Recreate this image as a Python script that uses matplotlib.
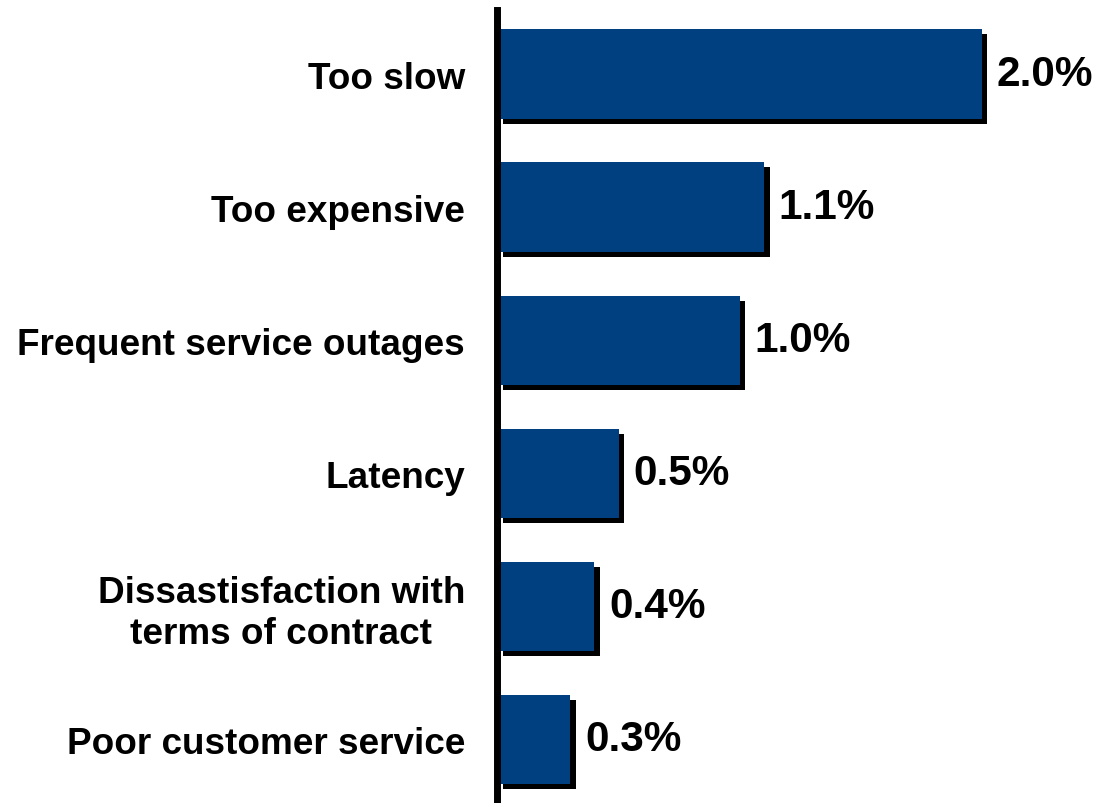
import matplotlib.pyplot as plt
import matplotlib.patheffects as pe

plt.rcParams.update({
    "font.family": ["Liberation Sans", "DejaVu Sans"],
    "font.weight": "bold",
})

# Reasons for cancelling, top to bottom
reasons = [
    "Too slow",
    "Too expensive",
    "Frequent service outages",
    "Latency",
    "Dissastisfaction with\nterms of contract",
    "Poor customer service",
]
shares = [2.0, 1.1, 1.0, 0.5, 0.4, 0.3]
value_labels = ["2.0%", "1.1%", "1.0%", "0.5%", "0.4%", "0.3%"]

bar_color = "#003F80"

fig = plt.figure(figsize=(11.10, 8.04), dpi=100)
ax = fig.add_axes([497.5 / 1110, 0, 605 / 1110, 793.5 / 804])

ypos = range(len(reasons))
bars = ax.barh(ypos, shares, height=0.67, color=bar_color, zorder=2)
for b in bars:
    b.set_path_effects([
        pe.SimplePatchShadow(offset=(4.3, -3.6), shadow_rgbFace="black", alpha=1.0),
        pe.Normal(),
    ])

for y, v, txt in zip(ypos, shares, value_labels):
    ax.annotate(txt, xy=(v, y), xytext=(10.8, 0), textcoords="offset points",
                ha="left", va="center", fontsize=30.5, fontweight="bold")

ax.set_xlim(0, 2.5)
ax.set_ylim(5.48, -0.485)

ax.set_yticks(list(ypos))
ax.set_yticklabels(reasons, fontsize=26.6, fontweight="bold")
for lbl in ax.get_yticklabels():
    lbl.set_multialignment("center")
ax.tick_params(axis="y", length=0, pad=23.4)
ax.set_xticks([])

for side in ["top", "right", "bottom"]:
    ax.spines[side].set_visible(False)
ax.spines["left"].set_linewidth(5.0)
ax.spines["left"].set_zorder(5)

fig.savefig("out.png", dpi=100)
